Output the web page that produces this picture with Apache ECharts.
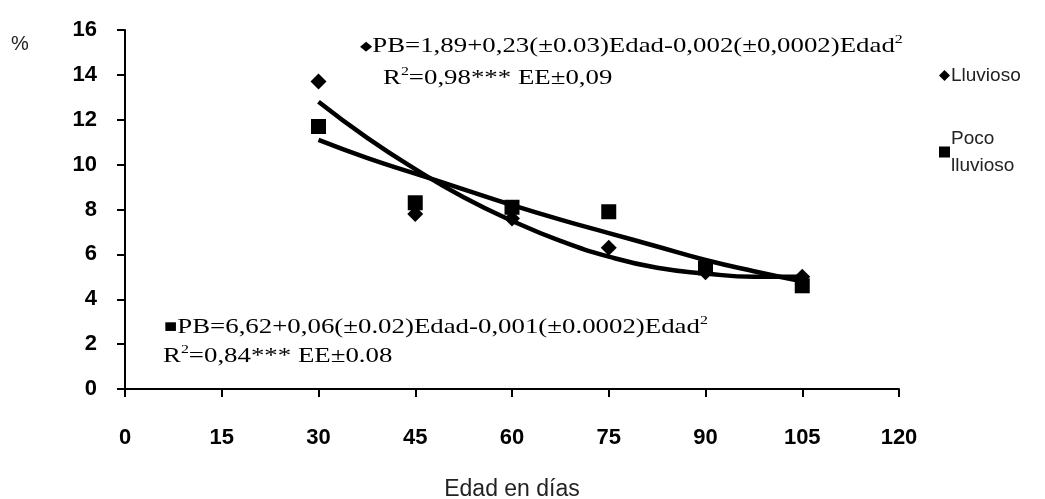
<!DOCTYPE html>
<html>
<head>
<meta charset="utf-8">
<script src="https://cdn.jsdelivr.net/npm/echarts@6/dist/echarts.min.js"></script>
<style>
  html, body { margin: 0; padding: 0; background: #fff; }
  #chart { width: 1045px; height: 499px; }
</style>
</head>
<body>
<div id="chart"></div>
<script>
// observed points (age in days, % PB)
const ages = [30, 45, 60, 75, 90, 105]
const lluvioso = [13.7, 7.8, 7.6, 6.3, 5.2, 5.0]
const pocoLluvioso = [11.7, 8.3, 8.1, 7.9, 5.4, 4.6]

// trend curves
const curveAges = [30, 37.5, 45, 52.5, 60, 67.5, 75, 82.5, 90, 97.5, 105]
const curveLluvioso = [12.8, 11.2, 9.8, 8.55, 7.5, 6.6, 5.9, 5.4, 5.15, 5.0, 5.0]
const curvePoco = [11.1, 10.3, 9.6, 8.9, 8.2, 7.55, 6.95, 6.35, 5.75, 5.25, 4.8]

const xTicks = [0, 15, 30, 45, 60, 75, 90, 105, 120]

const pairs = (xs, ys) => xs.map((x, i) => [x, ys[i]])

const chart = echarts.init(document.getElementById('chart'))

const serif = '"Liberation Serif", "Times New Roman", serif'
const sans = '"Liberation Sans", Arial, sans-serif'
const eqRich = {
  t: { fontFamily: serif, fontSize: 22, color: '#111', lineHeight: 26 },
  s: { fontFamily: serif, fontSize: 13, color: '#111', verticalAlign: 'top', lineHeight: 26 },
  m: { fontFamily: sans, fontSize: 13, color: '#000', lineHeight: 26 },
  q: { fontFamily: sans, fontSize: 18, color: '#000', lineHeight: 26 },
}

// one line of an equation label
const eqLine = (x, y, text) => ({
  type: 'text',
  x: x,
  y: y,
  scaleX: 1.22,
  style: { text: text, rich: eqRich, verticalAlign: 'middle' },
})

const option = {
  animation: false,
  grid: { left: 125, right: 146, top: 30, bottom: 110, outerBoundsMode: 'none' },
  xAxis: {
    type: 'value',
    min: 0,
    max: 120,
    interval: 15,
    name: 'Edad en días',
    nameLocation: 'middle',
    nameGap: 89,
    nameTextStyle: { fontFamily: sans, fontSize: 23, color: '#222' },
    axisLine: { lineStyle: { color: '#000', width: 2 } },
    axisTick: { length: 8, lineStyle: { color: '#000', width: 2 } },
    axisLabel: {
      margin: 38,
      fontFamily: sans,
      fontSize: 22,
      fontWeight: 'bold',
      color: '#000',
      formatter: v => (xTicks.includes(v) ? String(v) : ''),
    },
    splitLine: { show: false },
  },
  yAxis: {
    type: 'value',
    min: 0,
    max: 16,
    interval: 2,
    axisLine: { show: true, lineStyle: { color: '#000', width: 2 } },
    axisTick: { show: true, length: 8, lineStyle: { color: '#000', width: 2 } },
    axisLabel: {
      margin: 28,
      fontFamily: sans,
      fontSize: 22,
      fontWeight: 'bold',
      color: '#000',
    },
    splitLine: { show: false },
  },
  legend: {
    orient: 'vertical',
    left: 934,
    top: 57,
    itemWidth: 11,
    itemHeight: 11,
    itemGap: 36,
    data: ['Lluvioso', 'Poco lluvioso'],
    formatter: n => (n === 'Poco lluvioso' ? 'Poco\nlluvioso' : n),
    textStyle: { fontFamily: sans, fontSize: 19, color: '#222', lineHeight: 27, padding: [0, 0, 0, -4] },
  },
  graphic: [
    {
      type: 'text',
      left: 11,
      top: 34,
      style: { text: '%', fontFamily: sans, fontSize: 20, fill: '#222' },
    },
    eqLine(360, 46, '{m|◆}{t|PB=1,89+0,23(±0.03)Edad-0,002(±0,0002)Edad}{s|2}'),
    eqLine(383, 78, '{t|R}{s|2}{t|=0,98*** EE±0,09}'),
    eqLine(164, 327, '{q|■}{t|PB=6,62+0,06(±0.02)Edad-0,001(±0.0002)Edad}{s|2}'),
    eqLine(163, 356, '{t|R}{s|2}{t|=0,84*** EE±0.08}'),
  ],
  series: [
    {
      name: 'Lluvioso',
      type: 'scatter',
      symbol: 'diamond',
      symbolSize: 16,
      itemStyle: { color: '#000', opacity: 1 },
      z: 3,
      data: pairs(ages, lluvioso),
    },
    {
      name: 'Poco lluvioso',
      type: 'scatter',
      symbol: 'rect',
      symbolSize: 15,
      itemStyle: { color: '#000', opacity: 1 },
      z: 3,
      data: pairs(ages, pocoLluvioso),
    },
    {
      name: 'Tendencia lluvioso',
      type: 'line',
      smooth: true,
      symbol: 'none',
      lineStyle: { color: '#000', width: 4.5 },
      data: pairs(curveAges, curveLluvioso),
    },
    {
      name: 'Tendencia poco lluvioso',
      type: 'line',
      smooth: true,
      symbol: 'none',
      lineStyle: { color: '#000', width: 4.5 },
      data: pairs(curveAges, curvePoco),
    },
  ],
}

chart.setOption(option)
</script>
</body>
</html>
